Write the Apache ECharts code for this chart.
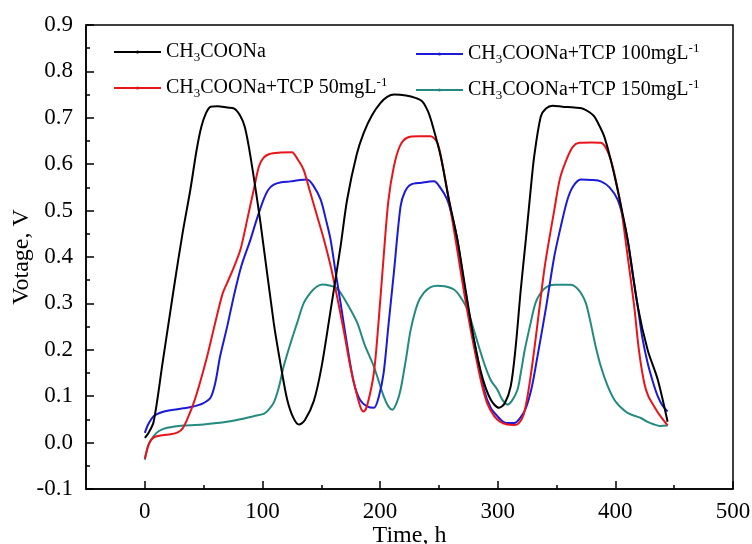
<!DOCTYPE html>
<html>
<head>
    <meta charset="utf-8">
    <script src="https://cdn.jsdelivr.net/npm/echarts@6/dist/echarts.min.js"></script>
    <style>
        html, body { margin: 0; padding: 0; background: #fff; }
    </style>
</head>
<body>
<div id="main" style="width: 752px;height:544px;"></div>

<script type="text/javascript">

    // 数据 [时间 h, 电压 V]
    var seriesNames = ['CH3COONa', 'CH3COONa+TCP 50mgL-1', 'CH3COONa+TCP 100mgL-1', 'CH3COONa+TCP 150mgL-1'];
    var seriesColors = ['#000000', '#e8141a', '#1a1ad8', '#238a80'];

    var blackPts = [[0,0.01],[3,0.02],[7.5,0.045],[15,0.17],[24.5,0.33],[32,0.45],[38.7,0.545],[44,0.63],[48,0.68],[52,0.71],[56,0.724],[62,0.725],[70,0.722],[76,0.72],[81,0.705],[85,0.68],[89.8,0.617],[98.3,0.474],[109.6,0.258],[116,0.16],[121,0.093],[126,0.055],[131,0.039],[136,0.048],[143.7,0.09],[150,0.16],[157,0.27],[166.4,0.423],[172,0.524],[180,0.62],[186,0.667],[193,0.705],[200.4,0.732],[206,0.745],[212,0.75],[222,0.748],[230,0.743],[236,0.735],[241,0.712],[245,0.68],[251.5,0.617],[258,0.53],[265.7,0.4375],[272,0.34],[279.8,0.222],[287,0.14],[294,0.093],[301,0.075],[306,0.085],[311,0.121],[315,0.2],[319.6,0.33],[324,0.44],[328,0.545],[331,0.617],[336.6,0.703],[341,0.72],[346.5,0.726],[355,0.724],[365,0.722],[372,0.72],[378,0.712],[382,0.703],[386,0.685],[390.5,0.66],[396,0.61],[401.9,0.545],[410.4,0.4375],[419,0.294],[427.4,0.2],[436,0.136],[444.4,0.045]];

    var redPts = [[0,-0.035],[4,0.0],[8,0.012],[15,0.016],[22,0.018],[28,0.022],[32,0.03],[36,0.05],[41.5,0.085],[47,0.13],[53,0.186],[60,0.26],[66,0.32],[70,0.344],[76,0.38],[81.3,0.416],[87,0.48],[92.6,0.545],[97,0.595],[101,0.614],[106,0.622],[115,0.625],[125,0.626],[130,0.61],[135,0.588],[140,0.545],[146.5,0.488],[152,0.44],[158,0.38],[163,0.32],[169,0.243],[175,0.16],[180.6,0.1],[184,0.072],[186,0.067],[189,0.08],[194.7,0.15],[199,0.27],[203,0.4],[207,0.52],[211.7,0.595],[217,0.64],[223,0.657],[233,0.66],[243,0.66],[248.7,0.646],[253,0.6],[257,0.545],[264,0.44],[271,0.33],[278,0.23],[285.5,0.136],[291,0.085],[297,0.057],[302,0.045],[308,0.039],[314,0.038],[318,0.042],[322,0.06],[326,0.11],[330,0.18],[334,0.26],[340,0.38],[348,0.5],[353,0.57],[359.3,0.615],[364,0.638],[369.2,0.646],[380,0.647],[387.7,0.646],[392,0.635],[396,0.61],[400,0.57],[404.7,0.509],[410,0.41],[416,0.294],[420,0.2],[424.5,0.129],[428,0.1],[433,0.078],[438,0.058],[444.4,0.037]];

    var bluePts = [[0,0.021],[3,0.04],[7.5,0.057],[15,0.066],[24.5,0.071],[33,0.074],[41.5,0.078],[49,0.084],[55.7,0.096],[60,0.13],[64,0.186],[70,0.25],[75.6,0.315],[82,0.38],[89.8,0.4375],[95,0.48],[101,0.524],[105,0.545],[109.6,0.556],[116,0.561],[123.8,0.563],[132,0.566],[138,0.567],[143,0.555],[149.4,0.524],[154,0.48],[157.9,0.4375],[162,0.37],[166.4,0.301],[172,0.21],[177.7,0.129],[183,0.092],[189,0.078],[194.7,0.075],[199,0.1],[203,0.15],[207,0.25],[211.7,0.366],[217.4,0.509],[221,0.54],[226,0.556],[235,0.56],[245.8,0.563],[251,0.55],[257,0.524],[262,0.48],[265.7,0.4375],[271,0.35],[277,0.258],[283,0.18],[288.3,0.114],[294,0.075],[299.7,0.057],[304,0.046],[308,0.042],[314,0.042],[319.6,0.055],[324,0.075],[329,0.12],[333.8,0.186],[341,0.29],[348,0.40],[354,0.47],[359.3,0.524],[364,0.552],[370.6,0.567],[380,0.566],[387.7,0.563],[395,0.55],[401.9,0.524],[406,0.49],[410.4,0.4375],[415,0.36],[419,0.294],[423,0.225],[427.4,0.172],[432,0.13],[436,0.1],[440,0.08],[444.4,0.067]];

    var tealPts = [[0,-0.037],[3,-0.005],[7.5,0.014],[12,0.025],[19,0.032],[33,0.037],[50,0.039],[61.4,0.042],[75,0.047],[92.6,0.057],[101,0.062],[105,0.07],[109.6,0.086],[114,0.12],[118,0.164],[124,0.215],[129.5,0.258],[135,0.3],[140.9,0.323],[146,0.336],[150.8,0.341],[157.9,0.338],[163,0.333],[166.4,0.323],[173,0.295],[180.6,0.258],[187,0.21],[194.7,0.164],[203,0.1],[207,0.078],[210.4,0.071],[214,0.085],[217.4,0.114],[222,0.18],[226,0.243],[232,0.3],[237.3,0.323],[243,0.335],[248.7,0.338],[255,0.337],[262.8,0.33],[268,0.315],[274.2,0.287],[280,0.24],[288.3,0.172],[294,0.135],[299.7,0.114],[304,0.092],[308.3,0.082],[312,0.09],[316.8,0.114],[319.6,0.15],[323,0.2],[328,0.258],[332,0.3],[336.6,0.323],[342,0.336],[348,0.34],[355,0.34],[362,0.34],[366,0.336],[370.6,0.323],[375,0.3],[379,0.258],[383,0.21],[387.7,0.164],[393,0.125],[399,0.093],[405,0.075],[410.4,0.064],[416,0.058],[421.7,0.053],[427,0.045],[433,0.039],[438,0.036],[444.4,0.037]];

    // 刻度
    var xMajorTicks = [0, 100, 200, 300, 400, 500];
    var xMinorTicks = [50, 150, 250, 350, 450];

    var allPts = [blackPts, redPts, bluePts, tealPts];

    var fontName = '"Liberation Serif", "DejaVu Serif", serif';

    var legendRich = {
        n: {fontSize: 20, fontFamily: fontName, color: '#000', lineHeight: 24},
        sub: {fontSize: 13, fontFamily: fontName, color: '#000', lineHeight: 24, verticalAlign: 'bottom'},
        sup: {fontSize: 13, fontFamily: fontName, color: '#000', lineHeight: 24, verticalAlign: 'top'}
    };
    function legendFormat(name) {
        var s = name.replace('CH3', 'CH}{sub|3}{n|').replace('L-1', 'L}{sup|-1}{n|');
        return '{n|' + s + '}';
    }

    var myChart = echarts.init(document.getElementById('main'));

    var series = [];
    for (var i = 0; i < seriesNames.length; i++) {
        series.push({
            name: seriesNames[i],
            type: 'line',
            xAxisIndex: 0,
            yAxisIndex: 0,
            data: allPts[i],
            smooth: 0.3,
            symbol: 'circle',
            symbolSize: 3,
            showSymbol: false,
            color: seriesColors[i],
            lineStyle: {color: seriesColors[i], width: 2},
            z: 10 - i
        });
    }

    var legendBase = {
        orient: 'vertical',
        itemWidth: 47,
        itemHeight: 4,
        itemGap: 12,
        padding: 0,
        formatter: legendFormat,
        textStyle: {rich: legendRich},
        selectedMode: false
    };

    var gridPos = {left: 86, right: 19, top: 25, bottom: 55, outerBoundsMode: 'none'};

    var option = {
        animation: false,
        backgroundColor: '#fff',
        grid: [
            Object.assign({show: true, borderColor: '#000', borderWidth: 1.5}, gridPos),
            // 第二个网格只用来画 x 轴次刻度 (y 轴从 0 起, x 轴落在 0 上即底边)
            Object.assign({show: false}, gridPos)
        ],
        legend: [
            Object.assign({}, legendBase, {left: 113, top: 42, data: [seriesNames[0], seriesNames[1]]}),
            Object.assign({}, legendBase, {left: 415, top: 42, data: [seriesNames[2], seriesNames[3]]})
        ],
        xAxis: [{
            gridIndex: 0,
            type: 'value',
            min: -50,
            max: 500,
            position: 'bottom',
            name: 'Time, h',
            nameLocation: 'middle',
            nameGap: 35,
            nameMoveOverlap: false,
            nameTextStyle: {fontSize: 24, fontFamily: fontName, color: '#000'},
            axisLine: {show: true, onZero: false, lineStyle: {color: '#000', width: 1.5}},
            axisTick: {show: true, inside: true, length: 8, customValues: xMajorTicks, lineStyle: {color: '#000', width: 1.5}},
            axisLabel: {customValues: xMajorTicks, fontSize: 23, fontFamily: fontName, color: '#000', margin: 11},
            splitLine: {show: false}
        }, {
            // 次刻度
            gridIndex: 1,
            type: 'value',
            min: -50,
            max: 500,
            axisLine: {show: false},
            axisTick: {show: true, inside: true, length: 4, customValues: xMinorTicks, lineStyle: {color: '#000', width: 1.5}},
            axisLabel: {show: false, customValues: xMinorTicks},
            splitLine: {show: false}
        }],
        yAxis: [{
            gridIndex: 0,
            type: 'value',
            min: -0.1,
            max: 0.9,
            interval: 0.1,
            name: 'Votage, V',
            nameLocation: 'middle',
            nameGap: 52,
            nameMoveOverlap: false,
            nameTextStyle: {fontSize: 24, fontFamily: fontName, color: '#000'},
            axisLine: {show: true, onZero: false, lineStyle: {color: '#000', width: 1.5}},
            axisTick: {show: true, inside: true, length: 8, lineStyle: {color: '#000', width: 1.5}},
            minorTick: {show: true, splitNumber: 2, length: 4, lineStyle: {color: '#000', width: 1.5}},
            axisLabel: {
                fontSize: 23, fontFamily: fontName, color: '#000', margin: 13,
                formatter: function (v) { return v.toFixed(1); }
            },
            splitLine: {show: false}
        }, {
            gridIndex: 1,
            type: 'value',
            min: 0,
            max: 1,
            axisLine: {show: false, onZero: false},
            axisTick: {show: false},
            axisLabel: {show: false},
            splitLine: {show: false}
        }],
        series: series
    };
    myChart.setOption(option);

</script>
</body>
</html>
